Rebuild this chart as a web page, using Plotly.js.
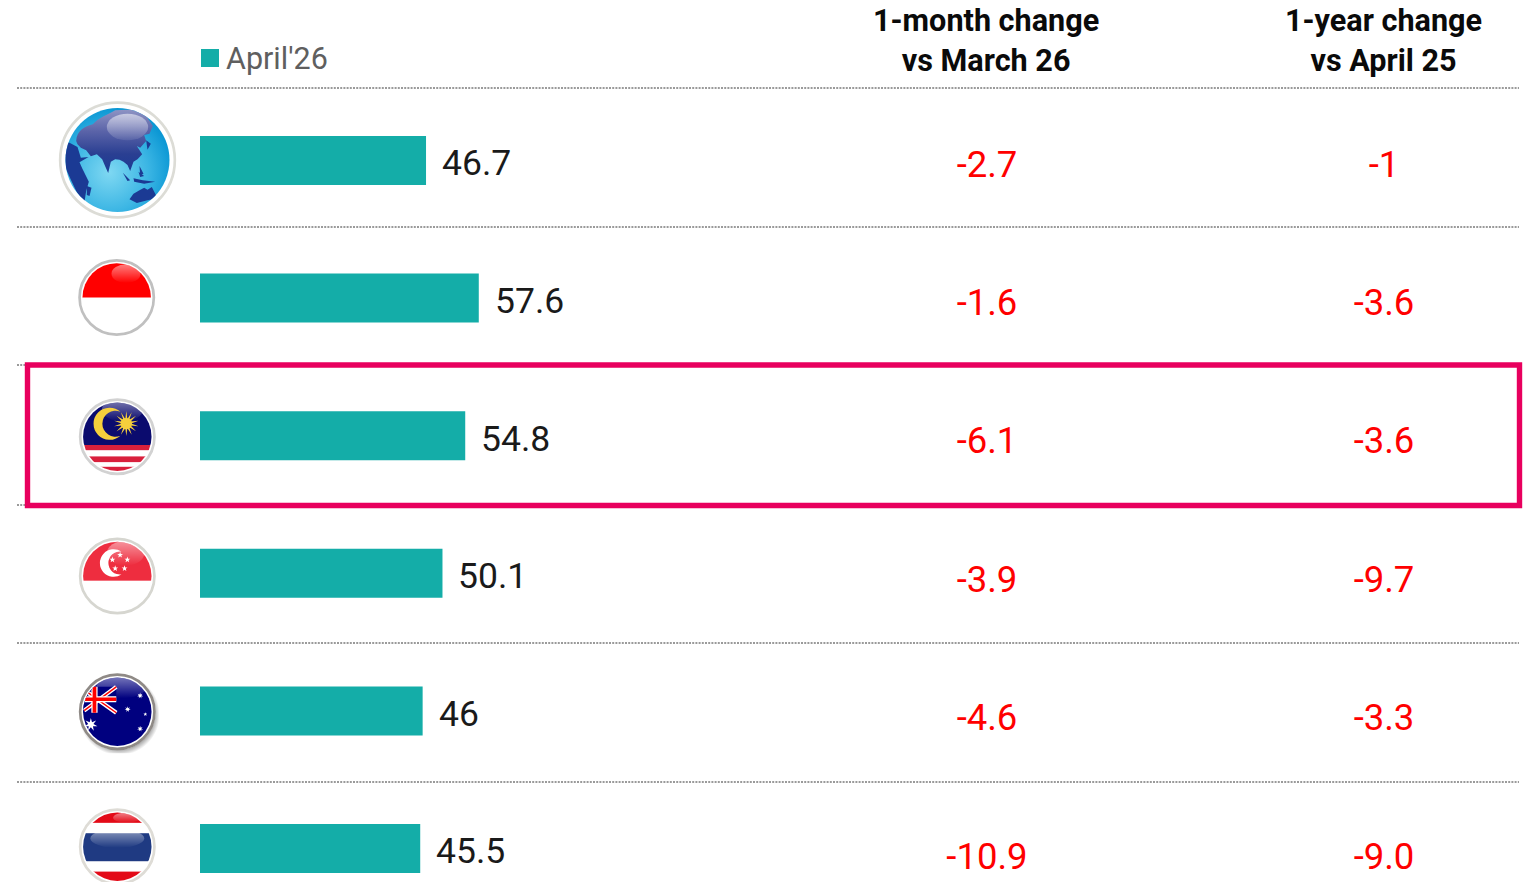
<!DOCTYPE html>
<html><head><meta charset="utf-8">
<script src="https://cdn.plot.ly/plotly-3.0.1.min.js"></script>
<style>html,body{margin:0;padding:0;background:#fff;overflow:hidden}#c{width:1527px;height:882px}</style>
</head><body><div id="c"></div>
<script>
const regions = ['World','Indonesia','Malaysia','Singapore','Australia','Thailand'];
const april26 = [46.7,57.6,54.8,50.1,46,45.5];
const monthChange = ['-2.7','-1.6','-6.1','-3.9','-4.6','-10.9'];
const yearChange = ['-1','-3.6','-3.6','-9.7','-3.3','-9.0'];
const seriesName = "April'26";
const header1 = '1-month change<br>vs March 26';
const header2 = '1-year change<br>vs April 25';

const W=1527,H=882, FONT='Roboto, sans-serif';
const TEAL='#14ADA8', RED='#FF0000', PINK='#E8005E';
const px=x=>x/W, py=y=>1-y/H;
const pxPerUnit=4.84, rowStep=137.6, row0=160.5, colStep=138.4, col0=167.5;
const xOf=p=>(p-200)/pxPerUnit;

function star(cx,cy,R,r,n){let d='';for(let i=0;i<n*2;i++){const a=-Math.PI/2+i*Math.PI/n,q=i%2?r:R;
 d+=(i?'L':'M')+(cx+q*Math.cos(a)).toFixed(2)+' '+(cy+q*Math.sin(a)).toFixed(2);}return d+'Z';}
function badge(inner,ring,extra){
 return `<svg xmlns="http://www.w3.org/2000/svg" width="160" height="160" viewBox="-40 -40 80 80"><defs>
 <clipPath id="k"><circle r="33"/></clipPath>
 <linearGradient id="g" x1="0" y1="0" x2="0" y2="1"><stop offset="0" stop-color="#fff" stop-opacity=".5"/><stop offset="1" stop-color="#fff" stop-opacity="0"/></linearGradient>
 <radialGradient id="s"><stop offset=".85" stop-color="#000" stop-opacity=".35"/><stop offset="1" stop-color="#000" stop-opacity="0"/></radialGradient></defs>
 ${extra||''}<circle r="37" fill="#fff"/><g clip-path="url(#k)">${inner}</g>
 <circle r="35.8" fill="none" stroke="${ring}" stroke-width="2.6"/></svg>`;
}
const gloss=(x,y,rx,ry)=>`<ellipse cx="${x}" cy="${y}" rx="${rx}" ry="${ry}" fill="url(#g)"/>`;
const uri=s=>'data:image/svg+xml;utf8,'+encodeURIComponent(s);

const globe=`<svg xmlns="http://www.w3.org/2000/svg" width="360" height="360" viewBox="52 27 360 360"><defs>
<clipPath id="k"><circle cx="232" cy="207" r="156"/></clipPath>
<radialGradient id="o" cx=".42" cy=".62" r=".62"><stop offset="0" stop-color="#7fd8f2"/><stop offset=".6" stop-color="#3cb6e4"/><stop offset="1" stop-color="#0b97d4"/></radialGradient>
<linearGradient id="l" x1="0" y1="0" x2="0" y2="1"><stop offset="0" stop-color="#8f94c4"/><stop offset=".35" stop-color="#5a63a8"/><stop offset=".7" stop-color="#2a3f92"/><stop offset="1" stop-color="#1b3a94"/></linearGradient>
<linearGradient id="g" x1="0" y1="0" x2="0" y2="1"><stop offset="0" stop-color="#fff" stop-opacity=".55"/><stop offset="1" stop-color="#fff" stop-opacity=".08"/></linearGradient></defs>
<circle cx="232" cy="207" r="172" fill="#fff" stroke="#dcdcd6" stroke-width="8"/>
<circle cx="232" cy="207" r="156" fill="url(#o)"/>
<g clip-path="url(#k)">
<path fill="url(#l)" d="M108 150C110 120 130 108 158 100C175 80 205 70 225 58L300 55L322 80L338 105L328 128L312 132L318 150L300 170L290 165L306 190L292 205L280 212L270 240L262 222L250 212L238 206L225 205L212 212L204 246L196 228L186 205L170 190L152 196L138 178L122 170L112 160Z"/>
<path fill="#1b3a94" d="M65 150L88 155L112 168L122 200L145 198L118 214L126 232L146 272L138 300L132 338L108 300L90 262L78 235Z"/>
<path fill="#1b3a94" d="M140 285L154 290L148 315L140 312Z"/>
<path fill="#1b3a94" d="M268 325L280 308L298 298L312 290L322 296L335 288L352 322L322 328L290 336Z"/>
<path fill="#1b3a94" d="M248 245L270 268L262 270ZM280 262L308 268L345 272L312 278L282 272ZM298 225L310 248L300 252ZM318 148L332 158L322 176ZM295 242L312 255L300 258Z"/>
<ellipse cx="262" cy="108" rx="62" ry="40" fill="url(#g)"/></g></svg>`;

const indonesia=badge(`<rect x="-40" y="-40" width="80" height="40" fill="#FF0000"/>`+gloss(9,-23,14,9),'#c0c0c0');
const malaysia=badge(`<rect x="-40" y="-40" width="80" height="48" fill="#0B0B6E"/>`+gloss(5,-26,20,11)+`
<rect x="-40" y="8" width="80" height="5" fill="#D9203C"/><rect x="-40" y="19" width="80" height="5.5" fill="#D9203C"/><rect x="-40" y="29" width="80" height="5" fill="#D9203C"/>
<path fill-rule="evenodd" fill="#F6CF3C" d="M3 -24A15.5 15.5 0 1 0 3 -1A12.5 12.5 0 1 1 3 -24Z"/>
<circle cx="8.7" cy="-12.7" r="5.4" fill="#F6CF3C"/>
<path fill="#F6CF3C" d="${star(8.7,-12.7,12,4.6,14)}"/>`,'#d2d2d2');
const singapore=badge(`<rect x="-40" y="-40" width="80" height="44.5" fill="#EE2D3F"/>`+gloss(8,-22,18,12)+
`<path fill="#fff" d="M4 -23.5A13.3 13.3 0 1 0 4 -1.5A11.1 11.1 0 1 1 4 -23.5Z"/>
<path fill="#fff" d="${[[2.7,-20.3],[9.7,-15.7],[7,-7.3],[-2,-7.3],[-4.7,-15.7]].map(p=>star(p[0],p[1],3,1.2,5)).join('')}"/>`,'#d6d6d0');
const jack=`<path d="M-40 -24L-1 -24L-1 1L-40 1Z" fill="#00007F"/>
<path d="M-32 -21L-1 1M-1 -24L-32 -1" stroke="#fff" stroke-width="4"/>
<path d="M-32 -21L-1 1M-1 -24L-32 -1" stroke="#FF0000" stroke-width="1.4"/>
<path d="M-22 -24V1M-40 -12H-1" stroke="#fff" stroke-width="6"/>
<path d="M-22 -24V1M-40 -12H-1" stroke="#FF0000" stroke-width="3.6"/>`;
const australia=badge(`<rect x="-40" y="-40" width="80" height="80" fill="#00007F"/>`+gloss(4,-24,24,11)+jack+
`<path fill="#fff" d="${star(-25.5,12.5,6.5,2.6,7)+star(22,-15.5,3,1.2,7)+star(10,-2.3,3,1.2,7)+star(27,2.5,2,.8,5)+star(22,16.5,3,1.2,7)}"/>`,
'#8f8a86',`<circle cx="2" cy="3" r="39" fill="url(#s)"/>`);
const thailand=badge(`<rect x="-40" y="-40" width="80" height="17" fill="#E30A17"/><rect x="-40" y="-13" width="80" height="27" fill="#1F3A82"/><rect x="-40" y="24" width="80" height="16" fill="#E30A17"/>`+gloss(0,-8,26,9)+gloss(9,-28,13,5),'#dedcd6');

const badgeImg=(src,cx,cy,size)=>({source:uri(src),xref:'paper',yref:'paper',x:px(cx-size/2),y:py(cy-size/2),sizex:size/W,sizey:size/H,xanchor:'left',yanchor:'top',sizing:'stretch',layer:'above'});
const images=[badgeImg(globe,117.5,160,120),badgeImg(indonesia,116.7,297.5,83),badgeImg(malaysia,117.3,436.7,83),badgeImg(singapore,117.3,576,83),badgeImg(australia,117.3,711.7,83),badgeImg(thailand,117.3,846.7,83)];

const rows=regions.map((_,i)=>i);
const trace={type:'bar',orientation:'h',x:april26,y:rows,width:0.356,name:seriesName,marker:{color:TEAL,line:{width:0}},hoverinfo:'x+text',hovertext:regions,cliponaxis:false};
const colTrace=(arr,p)=>({type:'scatter',mode:'text',x:rows.map(()=>xOf(p)),y:rows,yaxis:'y2',text:arr,textposition:'middle center',textfont:{family:FONT,size:36.5,color:RED},cliponaxis:false,hoverinfo:'skip'});

const rule=y=>({type:'line',xref:'paper',yref:'paper',x0:px(17),x1:px(1519),y0:py(y),y1:py(y),line:{color:'#7a7a7a',width:1.6,dash:'2px,1.2px'}});
const shapes=[88,227,365,505,643,782].map(rule);
shapes.push({type:'rect',xref:'paper',yref:'paper',x0:px(201),x1:px(219),y0:py(49),y1:py(67),fillcolor:TEAL,line:{width:0}});
shapes.push({type:'rect',xref:'paper',yref:'paper',x0:px(27.5),x1:px(1519.5),y0:py(365),y1:py(505.5),line:{color:PINK,width:5.4},fillcolor:'rgba(0,0,0,0)'});

const annotations=[];
april26.forEach((v,i)=>annotations.push({x:v,y:i,xref:'x',yref:'y',text:String(v),showarrow:false,xanchor:'left',yanchor:'middle',xshift:14,yshift:-2.8,font:{family:FONT,size:35.5,color:'#1a1a1a'}}));
const head=(t,x)=>annotations.push({x:px(x),y:py(40.5),xref:'paper',yref:'paper',text:'<b>'+t+'</b>',showarrow:false,xanchor:'center',yanchor:'middle',font:{family:FONT,size:30.6,color:'#0a0a0a'}});
head(header1,985.5);head(header2,1383);
annotations.push({x:px(224),y:py(58),xref:'paper',yref:'paper',text:seriesName,showarrow:false,xanchor:'left',yanchor:'middle',font:{family:FONT,size:30.5,color:'#5f5f5f'}});

const layout={width:W,height:H,margin:{l:0,r:0,t:0,b:0,pad:0},paper_bgcolor:'#fff',plot_bgcolor:'rgba(0,0,0,0)',showlegend:false,
 xaxis:{visible:false,range:[-200/pxPerUnit,(W-200)/pxPerUnit],fixedrange:true},
 yaxis:{visible:false,range:[(H-row0)/rowStep,-row0/rowStep],fixedrange:true},
 yaxis2:{visible:false,overlaying:'y',range:[(H-col0)/colStep,-col0/colStep],fixedrange:true},
 shapes,annotations,images};
Plotly.newPlot('c',[trace,colTrace(monthChange,987),colTrace(yearChange,1384)],layout,{displayModeBar:false,staticPlot:true});
</script></body></html>
